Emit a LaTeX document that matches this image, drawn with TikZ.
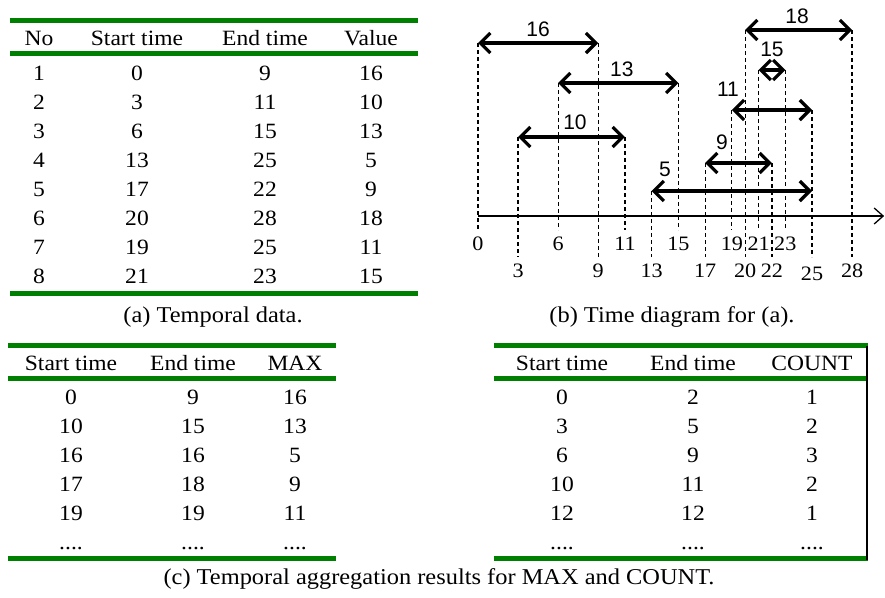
\documentclass[tikz,border=0pt]{standalone}
\usepackage{fontspec}
\setmainfont[FakeStretch=1.08]{Liberation Serif}
\newfontfamily\lblfont{Liberation Sans}
\usetikzlibrary{arrows.meta}
\definecolor{rulegreen}{RGB}{0,128,0}
\tikzset{
  cell/.style={anchor=base, inner sep=0pt, font=\fontsize{21.8}{26}\selectfont},
  caption/.style={anchor=base, inner sep=0pt, font=\fontsize{22.6}{27}\selectfont},
  ticklbl/.style={anchor=base, inner sep=0pt, font=\fontsize{20.5}{24}\selectfont},
  vallbl/.style={anchor=center, inner sep=0pt, font=\lblfont\fontsize{21}{25}\selectfont},
  greenrule/.style={draw=rulegreen, line width=5pt},
  interval/.style={line width=3.2pt,
    {Straight Barb[length=10pt,width=20pt]}-{Straight Barb[length=10pt,width=20pt]}},
  guide/.style={line width=1.2pt, dash pattern=on 4pt off 3pt},
  timeaxis/.style={line width=1.3pt, -{Straight Barb[length=9pt,width=16pt]}},
}
\begin{document}
\begin{tikzpicture}[x=1pt, y=-1pt]
\useasboundingbox (0,0) rectangle (885,597);

% ---------- (a) temporal data ----------
\coordinate (aTL) at (10,20);  \coordinate (aTR) at (418,20);
\coordinate (aML) at (10,53);  \coordinate (aMR) at (418,53);
\coordinate (aBL) at (10,293); \coordinate (aBR) at (418,293);
\draw[greenrule] (aTL) -- (aTR);
\draw[greenrule] (aML) -- (aMR);
\draw[greenrule] (aBL) -- (aBR);
\node[cell] (ah1) at (39,45)  {No};
\node[cell] (ah2) at (137,45) {Start time};
\node[cell] (ah3) at (265,45) {End time};
\node[cell] (ah4) at (371,45) {Value};
\foreach \n/\s/\e/\v [count=\i] in {1/0/9/16, 2/3/11/10, 3/6/15/13, 4/13/25/5,
    5/17/22/9, 6/20/28/18, 7/19/25/11, 8/21/23/15} {
  \node[cell] (a\i-1) at (39,{80+29.1*(\i-1)})  {\n};
  \node[cell] (a\i-2) at (137,{80+29.1*(\i-1)}) {\s};
  \node[cell] (a\i-3) at (265,{80+29.1*(\i-1)}) {\e};
  \node[cell] (a\i-4) at (371,{80+29.1*(\i-1)}) {\v};
}
\node[caption] (capa) at (213,322) {(a) Temporal data.};

% ---------- (b) time diagram ----------
\begin{scope}[shift={(478,0)}, x=13.36pt]
  \coordinate (axisstart) at (0,216);
  \coordinate (axisend) at (30.4,216);
  \draw[timeaxis] (axisstart) -- (axisend);
  % dashed guides from each interval end down past the axis
  \foreach \t/\top/\bot in {0/43/230, 3/137/257, 6/83/230, 9/43/257, 11/137/230,
      13/191/257, 15/83/230, 17/163/257, 19/110/230, 20/30/257, 21/70/230,
      22/163/257, 23/70/230, 25/110/257, 28/30/257} {
    \coordinate (gt\t) at (\t,\top);
    \coordinate (gb\t) at (\t,\bot);
    \draw[guide] (gt\t) -- (gb\t);
  }
  \foreach \t/\yb in {0/250, 6/250, 11/250, 15/250, 19/250, 21/250, 23/250,
      3/277, 9/277, 13/277, 17/277, 20/277, 22/277, 25/280, 28/277} {
    \node[ticklbl] (tk\t) at (\t,\yb) {\t};
  }
  % intervals: value / start / end / height / label position
  \foreach \v/\s/\e/\h/\lx/\ly in {16/0/9/43/4.5/29, 13/6/15/83/10.77/69,
      10/3/11/137/7.26/122, 5/13/25/191/14.0/169, 9/17/22/163/18.26/142,
      11/19/25/110/18.71/89, 15/21/23/70/22.0/49, 18/20/28/30/23.88/16} {
    \coordinate (s\v) at (\s,\h);
    \coordinate (e\v) at (\e,\h);
    \draw[interval] (s\v) -- (e\v);
    \node[vallbl] (lb\v) at (\lx,\ly) {\v};
  }
\end{scope}
\node[caption] (capb) at (672,322) {(b) Time diagram for (a).};

% ---------- (c) aggregation results ----------
\coordinate (cTL) at (8,345);  \coordinate (cTR) at (336,345);
\coordinate (cML) at (8,378);  \coordinate (cMR) at (336,378);
\coordinate (cBL) at (8,558);  \coordinate (cBR) at (336,558);
\draw[greenrule] (cTL) -- (cTR);
\draw[greenrule] (cML) -- (cMR);
\draw[greenrule] (cBL) -- (cBR);
\node[cell] (mh1) at (71,370)  {Start time};
\node[cell] (mh2) at (193,370) {End time};
\node[cell] (mh3) at (295,370) {MAX};
\foreach \s/\e/\v [count=\i] in {0/9/16, 10/15/13, 16/16/5, 17/18/9, 19/19/11, {....}/{....}/{....}} {
  \node[cell] (m\i-1) at (71,{404+29*(\i-1)})  {\s};
  \node[cell] (m\i-2) at (193,{404+29*(\i-1)}) {\e};
  \node[cell] (m\i-3) at (295,{404+29*(\i-1)}) {\v};
}

\coordinate (dTL) at (494,345);  \coordinate (dTR) at (868,345);
\coordinate (dML) at (494,378);  \coordinate (dMR) at (868,378);
\coordinate (dBL) at (494,558);  \coordinate (dBR) at (868,558);
\coordinate (dVT) at (867,346);  \coordinate (dVB) at (867,560);
\draw[greenrule] (dTL) -- (dTR);
\draw[greenrule] (dML) -- (dMR);
\draw[greenrule] (dBL) -- (dBR);
\draw[line width=2pt] (dVT) -- (dVB);
\node[cell] (ch1) at (562,370) {Start time};
\node[cell] (ch2) at (693,370) {End time};
\node[cell] (ch3) at (812,370) {COUNT};
\foreach \s/\e/\v [count=\i] in {0/2/1, 3/5/2, 6/9/3, 10/11/2, 12/12/1, {....}/{....}/{....}} {
  \node[cell] (c\i-1) at (562,{404+29*(\i-1)}) {\s};
  \node[cell] (c\i-2) at (693,{404+29*(\i-1)}) {\e};
  \node[cell] (c\i-3) at (812,{404+29*(\i-1)}) {\v};
}
\node[caption] (capc) at (439,584) {(c) Temporal aggregation results for MAX and COUNT.};
\end{tikzpicture}
\end{document}
